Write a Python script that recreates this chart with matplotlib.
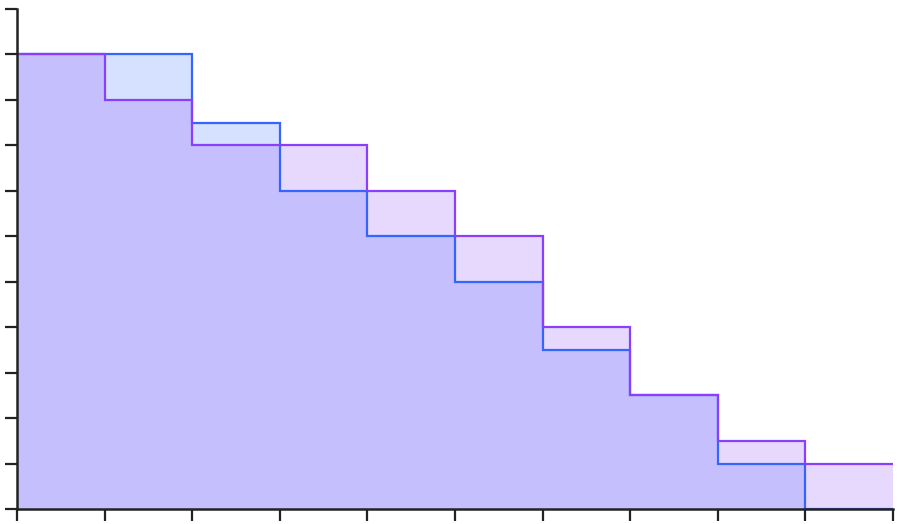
import numpy as np
import matplotlib.pyplot as plt

# valores por intervalo (escalones)
edges = np.arange(0, 11)
serie_azul = [10, 10, 8.5, 7, 6, 5, 3.5, 2.5, 1, 0]
serie_morada = [10, 9, 8, 8, 7, 6, 4, 2.5, 1.5, 1]

azul = '#3366ff'
morado = '#8a3ffc'

fig = plt.figure(figsize=(8.98, 5.24), dpi=100)
ax = fig.add_axes([17 / 898, 1 - 509 / 524, 876 / 898, 500 / 524])

# rellenos
ax.stairs(serie_azul, edges, fill=True, color=azul, alpha=0.2, linewidth=0)
ax.stairs(serie_morada, edges, fill=True, color=morado, alpha=0.2, linewidth=0)

# contornos
ax.stairs(serie_azul, edges, baseline=None, color=azul, linewidth=1.6)
ax.stairs(serie_morada, edges, baseline=None, color=morado, linewidth=1.6)

ax.set_xlim(0, 10)
ax.set_ylim(0, 11)
ax.set_xticks(edges)
ax.set_yticks(np.arange(0, 12))
ax.set_xticklabels([])
ax.set_yticklabels([])

for lado in ['top', 'right']:
    ax.spines[lado].set_visible(False)
for lado in ['left', 'bottom']:
    ax.spines[lado].set_color('#222222')
    ax.spines[lado].set_linewidth(1.8)
ax.tick_params(direction='out', length=8.5, width=1.6, color='#222222')

fig.savefig('out.png', dpi=100)
